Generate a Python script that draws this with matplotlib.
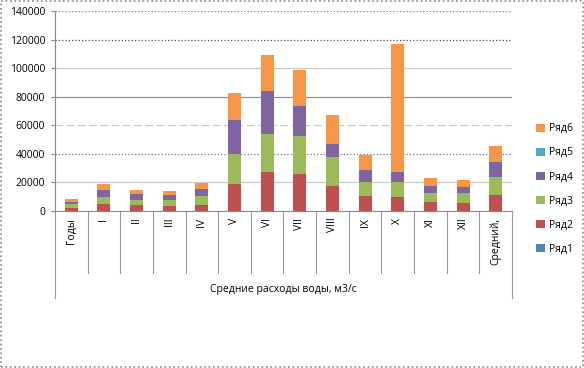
import numpy as np
import matplotlib
matplotlib.use("Agg")
import matplotlib.pyplot as plt
from matplotlib.patches import Patch
from matplotlib.transforms import blended_transform_factory

plt.rcParams['font.family'] = ['Open Sans', 'DejaVu Sans']

categories = ["Годы", "I", "II", "III", "IV", "V", "VI", "VII", "VIII", "IX", "X", "XI", "XII", "Средний,"]
group_label = "Средние расходы воды, м3/с"

# cumulative stack, converted to per-series values below
riad1 = [0, 0, 0, 0, 0, 0, 0, 0, 0, 0, 0, 0, 0, 0]
riad2 = [2100, 4900, 3800, 3300, 4200, 18900, 27300, 25900, 17300, 10300, 9800, 6100, 5600, 11100]
riad3 = [2400, 4900, 3900, 4200, 6100, 20800, 26500, 26500, 20600, 9800, 10100, 6500, 6600, 12700]
riad4 = [1800, 4900, 3800, 3500, 4700, 23900, 30100, 21000, 8900, 8600, 7300, 5000, 4200, 10300]
riad5 = [0, 0, 0, 0, 0, 0, 0, 0, 0, 0, 0, 0, 0, 0]
riad6 = [1900, 4000, 3000, 2800, 4400, 18700, 25200, 25200, 20300, 10500, 89700, 5400, 5100, 11300]

series = [("Ряд1", riad1, "#4F81BD"), ("Ряд2", riad2, "#C0504D"), ("Ряд3", riad3, "#9BBB59"),
          ("Ряд4", riad4, "#8064A2"), ("Ряд5", riad5, "#4BACC6"), ("Ряд6", riad6, "#F79646")]

fig = plt.figure(figsize=(5.84, 3.68), dpi=100)
ax = fig.add_axes([55 / 584, 1 - 210.7 / 368, 457 / 584, 199.7 / 368])

x = np.arange(len(categories))
bottom = np.zeros(len(categories))
handles = []
for name, vals, col in series:
    ax.bar(x, vals, width=0.4, bottom=bottom, color=col, zorder=3)
    bottom += np.array(vals)
    handles.append(Patch(facecolor=col, label=name))

ax.set_xlim(-0.5, len(categories) - 0.5)
ax.set_ylim(0, 140000)
ax.set_yticks(range(0, 140001, 20000))
ax.tick_params(axis='y', labelsize=7.5, length=3, color='#888888', pad=4)
ax.set_xticks([])

# gridlines (Excel render has mixed styles)
grid_styles = {20000: ('-', '#c8c8c8'), 40000: (':', '#707070'), 60000: ((0, (6, 3)), '#c8c8c8'),
               80000: ('-', '#909090'), 100000: ('-', '#c8c8c8'), 120000: (':', '#505050'),
               140000: (':', '#808080')}
for yv, (ls, c) in grid_styles.items():
    ax.axhline(yv, color=c, linestyle=ls, linewidth=0.9, zorder=1)

for s in ['top', 'right']:
    ax.spines[s].set_visible(False)
ax.spines['left'].set_color('#888888')
ax.spines['bottom'].set_color('#888888')

# category axis: rotated labels with separators, plus outer group label
tr = blended_transform_factory(ax.transData, ax.transAxes)
for i, lab in enumerate(categories):
    ax.text(i, -0.035, lab, rotation=90, ha='center', va='top', fontsize=7.5, transform=tr)
for b in np.arange(0.5, len(categories) - 1, 1.0):
    ax.plot([b, b], [0, -0.31], transform=tr, color='#999999', lw=0.8, clip_on=False)
for b in [-0.5, len(categories) - 0.5]:
    ax.plot([b, b], [0, -0.437], transform=tr, color='#999999', lw=0.8, clip_on=False)
ax.text((len(categories) - 1) / 2, -0.397, group_label, ha='center', va='center',
        fontsize=7.5, transform=tr)

fig.legend(handles=handles[::-1], loc='upper left', bbox_to_anchor=(527 / 584, 1 - 114 / 368),
           frameon=False, fontsize=7.5, handlelength=0.8, handleheight=0.8,
           handletextpad=0.4, labelspacing=1.25)

# chart area border
fig.patches.append(plt.Rectangle((0.002, 0.002), 0.996, 0.996, transform=fig.transFigure,
                                 fill=False, edgecolor='#888888', linestyle=':', lw=1.2))

fig.savefig("out.png", dpi=100)
